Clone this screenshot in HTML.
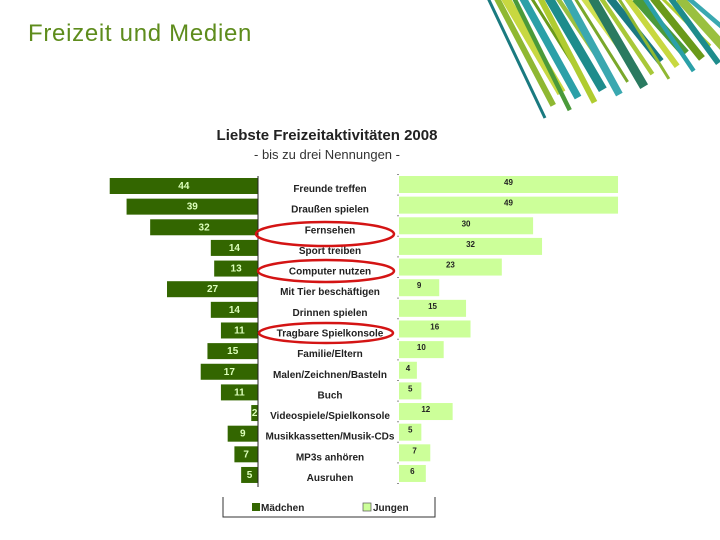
<!DOCTYPE html>
<html><head><meta charset="utf-8"><style>
body{margin:0;width:720px;height:540px;overflow:hidden;background:#fff;font-family:"Liberation Sans",sans-serif}
#t{position:absolute;left:28px;top:20px;font-size:24px;color:#5e8c1c;font-family:"Liberation Sans",sans-serif;letter-spacing:0.7px}
svg{position:absolute;left:0;top:0}
</style></head><body>
<div id="t">Freizeit und Medien</div>
<svg width="720" height="540" id="s">
<g id="deco"></g>
<text x="327" y="140" font-size="15" font-weight="bold" text-anchor="middle" fill="#222">Liebste Freizeitaktivitäten 2008</text>
<text x="327" y="159" font-size="13" text-anchor="middle" fill="#333">- bis zu drei Nennungen -</text>
<g id="bars"></g>
<line x1="258" y1="176" x2="258" y2="487" stroke="#222"/>
<line x1="398" y1="174" x2="398" y2="487" stroke="#222" stroke-dasharray="1,19.6"/>
<path d="M223,497 V517 H435 V497" fill="none" stroke="#333"/>
<rect x="252" y="503" width="8" height="8" fill="#336600"/>
<text x="261" y="511" font-size="10" font-weight="bold" fill="#222">Mädchen</text>
<rect x="363" y="503" width="8" height="8" fill="#ccff99" stroke="#555" stroke-width="0.7"/>
<text x="373" y="511" font-size="10" font-weight="bold" fill="#222">Jungen</text>
<g fill="none" stroke="#d41414" stroke-width="2.5">
<ellipse cx="325" cy="234" rx="69" ry="12"/>
<ellipse cx="326" cy="271" rx="68" ry="11"/>
<ellipse cx="326" cy="333" rx="67" ry="10"/>
</g>
</svg>
<script>
const categories=["Freunde treffen","Draußen spielen","Fernsehen","Sport treiben","Computer nutzen","Mit Tier beschäftigen","Drinnen spielen","Tragbare Spielkonsole","Familie/Eltern","Malen/Zeichnen/Basteln","Buch","Videospiele/Spielkonsole","Musikkassetten/Musik-CDs","MP3s anhören","Ausruhen"];
const maedchen=[44,39,32,14,13,27,14,11,15,17,11,2,9,7,5];
const jungen=[49,49,30,32,23,9,15,16,10,4,5,12,5,7,6];
const NS="http://www.w3.org/2000/svg";
const g=document.getElementById('bars');
const xL=v=>258-v*3.37, xR=v=>399+v*4.47, yRow=i=>186+i*20.64;
function mk(t,a){const e=document.createElementNS(NS,t);for(const k in a)e.setAttribute(k,a[k]);g.appendChild(e);return e;}
categories.forEach((c,i)=>{
 const y=yRow(i);
 const r1=mk('rect',{x:xL(maedchen[i]),y:y-8,width:258-xL(maedchen[i]),height:16,fill:'#336600'});
 
 
 const t1=mk('text',{x:(xL(maedchen[i])+258)/2,y:y+3,'font-size':10,'font-weight':'bold',fill:'#ddffbb','text-anchor':'middle'});
 t1.textContent=maedchen[i];
 
 
 const r2=mk('rect',{x:399,y:y-10,width:xR(jungen[i])-399,height:17,fill:'#ccff99'});
 
 
 const t2=mk('text',{x:(399+xR(jungen[i]))/2,y:y-1,'font-size':8,'font-weight':'bold',fill:'#222','text-anchor':'middle'});
 t2.textContent=jungen[i];
 
 
 const t3=mk('text',{x:330,y:y+6,'font-size':10,'font-weight':'bold',fill:'#222','text-anchor':'middle'});
 t3.textContent=c;
 
 
});
// decorative stripes
const d=document.getElementById('deco');
const cols=['#1a7a80','#8fb832','#c8d840','#4a9a3a','#2ba0a8','#6a9a1a','#b0cc30','#1e8c8c','#9ac040','#3aa8b0','#7aa82a','#d0e050','#2a7a60','#a8c838'];
const N=24;
for(let k=0;k<N;k++){
 const f=k/(N-1);
 const x0=488+f*200;
 const x1=545+f*190, y1=118-f*60;
 const w=3+(k*7%5)*1.5;
 const l=document.createElementNS(NS,'line');
 l.setAttribute('x1',x0);l.setAttribute('y1',-2);l.setAttribute('x2',x1);l.setAttribute('y2',y1-(k%3)*10);
 l.setAttribute('stroke',cols[k%cols.length]);l.setAttribute('stroke-width',w);
 d.appendChild(l);
}
</script>
</body></html>
